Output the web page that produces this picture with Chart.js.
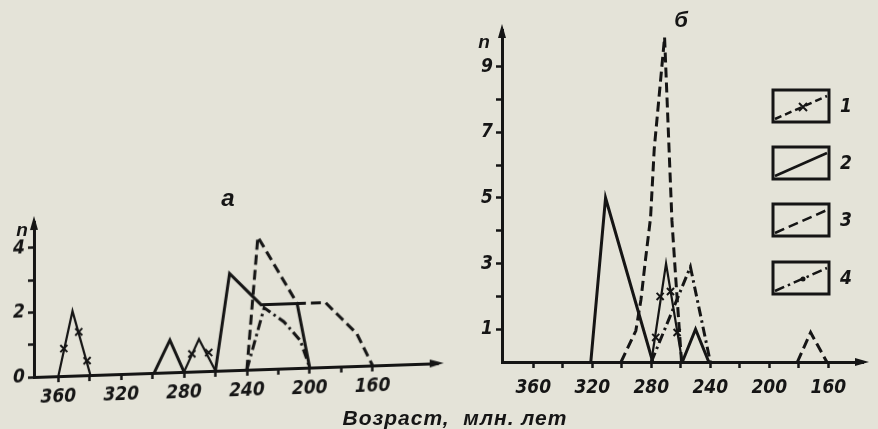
<!DOCTYPE html>
<html>
<head>
<meta charset="utf-8">
<script src="https://cdn.jsdelivr.net/npm/chart.js@4/dist/chart.umd.min.js"></script>
<style>
  body { margin: 0; background: #e4e3d8; width: 878px; height: 429px; overflow: hidden; position: relative; }
  canvas { position: absolute; top: 0; }
  /* скан слегка перекошен: ось абсцисс панели а поднимается вправо */
  #left { left: 0; transform-origin: 34px 377px; transform: skewY(-1.95deg); }
  #right { left: 460px; }
  .lbl { position: absolute; transform: translate(-50%, -50%); line-height: 1; color: #151515;
         font-family: 'Liberation Sans', 'DejaVu Sans', sans-serif; font-weight: bold; font-style: italic; white-space: nowrap; }
</style>
</head>
<body>
<canvas id="left" width="460" height="429"></canvas>
<canvas id="right" width="418" height="429"></canvas>
<div class="lbl" style="left:228px;top:198px;font-size:24px">а</div>
<div class="lbl" style="left:681px;top:20px;font-size:22px">б</div>
<div class="lbl" style="left:22px;top:229px;font-size:19px">n</div>
<div class="lbl" style="left:484px;top:41px;font-size:19px">n</div>
<div class="lbl" style="left:455px;top:417px;font-size:21px;letter-spacing:1px">Возраст,&nbsp; млн. лет</div>
<script>
// ---- данные: панель а ----
const ageTicks = [360, 340, 320, 300, 280, 260, 240, 220, 200, 180, 160];

const a1Age = [360, 351, 339.6, null, 280, 270.5, 260];
const a1N   = [0, 2, 0, null, 0, 1, 0];
const a1MarkAge = [356.5, 347, 341.7, 275, 264.3];
const a1MarkN   = [0.85, 1.35, 0.45, 0.55, 0.57];

const a2Age = [299, 289, 280, null, 260, 251, 231, 208, 200];
const a2N   = [0, 1, 0, null, 0, 3, 2, 2, 0];

const a3Age = [240, 233, 208, 190, 180, 170, 160];
const a3N   = [0, 4.1, 2, 2, 1.5, 1, 0];

const a4Age = [240, 229, 216.5, 206, 200];
const a4N   = [0, 1.9, 1.45, 0.85, 0];

// ---- данные: панель б ----
const b1Age = [280, 270, 259];
const b1N   = [0, 3, 0];
const b1MarkAge = [277, 274, 267, 262.5];
const b1MarkN   = [0.75, 2, 2.15, 0.9];

const b2Age = [321, 311, 279, null, 259, 250, 241];
const b2N   = [0, 5, 0, null, 0, 1, 0];

const b3Age = [300.5, 290.5, 287, 284, 280.5, 278, 271, 266, 263.5, 259.5, null, 181, 172, 161];
const b3N   = [0, 0.95, 1.9, 3.1, 4.4, 6.5, 9.9, 4.3, 2.6, 0, null, 0, 0.9, 0];

const b4Age = [280, 253.5, 240];
const b4N   = [0, 2.9, 0];

const leftYTicks = [0, 1, 2, 3, 4];
const rightYTicks = [1, 2, 3, 4, 5, 6, 7, 8, 9];
const legendLabels = ['1', '2', '3', '4'];

const ink = '#151515';
const fontFam = "'Liberation Sans Narrow', 'DejaVu Sans Condensed', 'Liberation Sans', sans-serif";
const DASH = [10, 5];
const DASHDOT = [10, 4, 2.5, 4];

function pts(ages, ns) {
  return ages.map((a, i) => ({ x: a, y: ns[i] }));
}

function lineSet(ages, ns, dash, width) {
  return {
    data: pts(ages, ns),
    borderColor: ink,
    borderWidth: width || 3,
    borderDash: dash || [],
    pointRadius: 0,
    tension: 0,
    spanGaps: false,
    fill: false
  };
}

function markSet(ages, ns) {
  return {
    data: pts(ages, ns),
    showLine: false,
    pointStyle: 'crossRot',
    pointRadius: 5,
    pointBorderWidth: 2,
    pointBorderColor: ink,
    pointBackgroundColor: ink
  };
}

function makeScales(xMin, xMax, yMax, yTicks, yShow, yWidth, xHeight, xPad) {
  const tickFont = { family: fontFam, size: 19, weight: 'bold', style: 'italic' };
  return {
    x: {
      type: 'linear', reverse: true, min: xMin, max: xMax,
      afterBuildTicks: s => { s.ticks = ageTicks.map(v => ({ value: v })); },
      afterFit: s => { s.height = xHeight; },
      grid: { drawOnChartArea: false, drawTicks: true, tickLength: 6, color: ink, tickColor: ink, tickWidth: 2.5 },
      border: { display: true, color: ink, width: 3 },
      ticks: { autoSkip: false, maxRotation: 0, color: ink, font: tickFont, padding: xPad,
               callback: v => (v % 40 === 0 ? String(v) : '') }
    },
    y: {
      type: 'linear', min: 0, max: yMax,
      afterBuildTicks: s => { s.ticks = yTicks.map(v => ({ value: v })); },
      afterFit: s => { s.width = yWidth; },
      grid: { drawOnChartArea: false, drawTicks: true, tickLength: 6, color: ink, tickColor: ink, tickWidth: 2.5 },
      border: { display: true, color: ink, width: 3 },
      ticks: { autoSkip: false, color: ink, font: tickFont, padding: 3,
               callback: v => (yShow(v) ? String(v) : '') }
    }
  };
}

// стрелки на концах осей
const arrows = {
  id: 'arrows',
  afterDraw(chart) {
    const { ctx, chartArea: ca } = chart;
    ctx.save();
    ctx.fillStyle = ink;
    ctx.beginPath();
    ctx.moveTo(ca.left, ca.top - 6);
    ctx.lineTo(ca.left - 4, ca.top + 8);
    ctx.lineTo(ca.left + 4, ca.top + 8);
    ctx.closePath();
    ctx.fill();
    ctx.beginPath();
    ctx.moveTo(ca.right + 6, ca.bottom);
    ctx.lineTo(ca.right - 8, ca.bottom - 4);
    ctx.lineTo(ca.right - 8, ca.bottom + 4);
    ctx.closePath();
    ctx.fill();
    ctx.restore();
  }
};

// условные обозначения (рамки справа)
const boxes = {
  id: 'boxes',
  afterDraw(chart) {
    const ctx = chart.ctx;
    const bx = 313, bw = 56, bh = 32;
    const tops = [90, 147, 204, 262];
    const dashes = [[7, 4], [], DASH, DASHDOT];
    ctx.save();
    ctx.strokeStyle = ink;
    ctx.fillStyle = ink;
    legendLabels.forEach((lab, i) => {
      const y = tops[i];
      ctx.setLineDash([]);
      ctx.lineWidth = 3;
      ctx.strokeRect(bx, y, bw, bh);
      ctx.lineWidth = 2.5;
      ctx.setLineDash(dashes[i]);
      ctx.beginPath();
      ctx.moveTo(bx + 2, y + bh - 3);
      ctx.lineTo(bx + bw - 2, y + 6);
      ctx.stroke();
      ctx.setLineDash([]);
      const mx = bx + bw / 2 + 2, my = y + bh / 2 + 1;
      if (i === 0) {
        ctx.lineWidth = 2;
        ctx.beginPath();
        ctx.moveTo(mx - 4, my - 4); ctx.lineTo(mx + 4, my + 4);
        ctx.moveTo(mx + 4, my - 4); ctx.lineTo(mx - 4, my + 4);
        ctx.stroke();
      }
      if (i === 3) {
        ctx.beginPath();
        ctx.arc(mx, my, 2.5, 0, Math.PI * 2);
        ctx.fill();
      }
      ctx.font = "bold italic 19px " + fontFam;
      ctx.textAlign = 'center';
      ctx.textBaseline = 'middle';
      ctx.fillText(lab, 386, y + bh / 2 + 1);
    });
    ctx.restore();
  }
};

const common = {
  responsive: false,
  animation: false,
  devicePixelRatio: 1,
  plugins: { legend: { display: false }, tooltip: { enabled: false } },
  elements: { line: { borderCapStyle: 'butt', borderJoinStyle: 'miter' } }
};

new Chart(document.getElementById('left'), {
  type: 'line',
  data: {
    datasets: [
      lineSet(a1Age, a1N, [], 2.2),
      markSet(a1MarkAge, a1MarkN),
      lineSet(a2Age, a2N, []),
      lineSet(a3Age, a3N, DASH),
      lineSet(a4Age, a4N, DASHDOT)
    ]
  },
  options: Object.assign({}, common, {
    layout: { padding: { left: 0, right: 22, top: 222, bottom: 0 } },
    scales: makeScales(118.5, 375.5, 4.8, leftYTicks, v => v % 2 === 0, 34, 52, 4)
  }),
  plugins: [arrows]
});

new Chart(document.getElementById('right'), {
  type: 'line',
  data: {
    datasets: [
      lineSet(b1Age, b1N, [], 2.2),
      markSet(b1MarkAge, b1MarkN),
      lineSet(b2Age, b2N, []),
      lineSet(b3Age, b3N, DASH),
      lineSet(b4Age, b4N, DASHDOT)
    ]
  },
  options: Object.assign({}, common, {
    layout: { padding: { left: 0, right: 15, top: 30, bottom: 0 } },
    scales: makeScales(136.5, 381.2, 10.12, rightYTicks, v => v % 2 === 1, 42, 67, 9)
  }),
  plugins: [arrows, boxes]
});
</script>
</body>
</html>
